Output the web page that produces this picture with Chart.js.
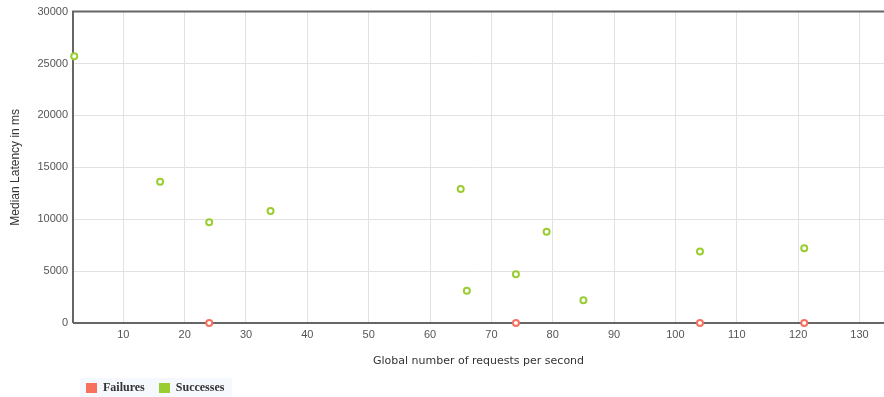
<!DOCTYPE html>
<html>
<head>
<meta charset="utf-8">
<script src="https://cdn.jsdelivr.net/npm/chart.js@4/dist/chart.umd.min.js"></script>
<style>
  html, body { margin: 0; padding: 0; background: #fff; }
  #wrap { position: relative; width: 884px; height: 397px; }
  #legend { position: absolute; left: 80px; top: 378px; height: 19px; padding: 0 8px 0 6px;
    background: rgba(232,240,250,0.45); font-family: "Liberation Serif", "Times New Roman", serif;
    font-weight: bold; font-size: 12px; color: #333; display: flex; align-items: center; }
  .item { display: flex; align-items: center; margin-right: 14px; }
  .item:last-child { margin-right: 0; }
  .box { width: 11px; height: 10px; margin-right: 6px; }
</style>
</head>
<body>
<div id="wrap">
  <canvas id="c" width="884" height="397"></canvas>
  <div id="legend"></div>
</div>
<script>
const seriesNames = ["Failures", "Successes"];
const seriesColors = ["#f8705e", "#9acd32"];
const failureX = [24, 74, 104, 121];
const failureY = [0, 0, 0, 0];
const successX = [2, 16, 24, 34, 65, 66, 74, 79, 85, 104, 121];
const successY = [25700, 13600, 9700, 10800, 12900, 3100, 4700, 8800, 2200, 6900, 7200];
const xTicks = [10, 20, 30, 40, 50, 60, 70, 80, 90, 100, 110, 120, 130];
const yTicks = [0, 5000, 10000, 15000, 20000, 25000, 30000];
const xTitle = "Global number of requests per second";
const yTitle = "Median Latency in ms";

function pts(xs, ys) { return xs.map((x, i) => ({ x: x, y: ys[i] })); }

const frame = {
  id: 'frame',
  beforeDatasetsDraw(chart) {
    const a = chart.chartArea, ctx = chart.ctx;
    ctx.save();
    ctx.strokeStyle = '#666';
    ctx.lineWidth = 2;
    ctx.beginPath();
    ctx.moveTo(a.left, a.bottom); ctx.lineTo(a.left, a.top); ctx.lineTo(a.right, a.top);
    ctx.moveTo(a.left, a.bottom); ctx.lineTo(a.right, a.bottom);
    ctx.stroke();
    ctx.restore();
  }
};

const tickFont = { family: "'Liberation Sans', Arial, sans-serif", size: 11 };

new Chart(document.getElementById('c'), {
  type: 'scatter',
  data: {
    datasets: [
      { label: seriesNames[1], data: pts(successX, successY), borderColor: seriesColors[1],
        backgroundColor: '#fff', pointRadius: 3, pointBorderWidth: 2, pointHoverRadius: 3, clip: false },
      { label: seriesNames[0], data: pts(failureX, failureY), borderColor: seriesColors[0],
        backgroundColor: '#fff', pointRadius: 3, pointBorderWidth: 2, pointHoverRadius: 3, clip: false }
    ]
  },
  options: {
    responsive: false,
    animation: false,
    layout: { autoPadding: false, padding: { top: 10, right: 0, bottom: 24, left: 0 } },
    plugins: { legend: { display: false }, tooltip: { enabled: false } },
    scales: {
      x: {
        type: 'linear', min: 1.8, max: 134,
        afterBuildTicks: s => { s.ticks = xTicks.map(v => ({ value: v })); },
        afterFit: s => { s.height = 50; s.paddingRight = 0; },
        grid: { color: '#e2e2e2', drawTicks: false },
        border: { display: false },
        ticks: { padding: 5, color: '#555', font: tickFont, maxRotation: 0, autoSkip: false,
          callback: v => String(v) },
        title: { display: true, text: xTitle, color: '#333',
          font: { family: "'DejaVu Sans', Verdana, sans-serif", size: 11 }, padding: { top: 0, bottom: 5 } }
      },
      y: {
        min: 0, max: 30000,
        afterBuildTicks: s => { s.ticks = yTicks.map(v => ({ value: v })); },
        afterFit: s => { s.width = 73; },
        grid: { color: '#e2e2e2', drawTicks: false },
        border: { display: false },
        ticks: { padding: 5, color: '#555', font: tickFont, autoSkip: false, callback: v => String(v) },
        title: { display: true, text: yTitle, color: '#333',
          font: { family: "'Liberation Sans', Arial, sans-serif", size: 12 }, padding: { top: 8, bottom: 0 } }
      }
    }
  },
  plugins: [frame]
});

const lg = document.getElementById('legend');
seriesNames.forEach((n, i) => {
  const it = document.createElement('div'); it.className = 'item';
  const b = document.createElement('div'); b.className = 'box'; b.style.background = seriesColors[i];
  const t = document.createElement('span'); t.textContent = n;
  it.appendChild(b); it.appendChild(t); lg.appendChild(it);
});
</script>
</body>
</html>
